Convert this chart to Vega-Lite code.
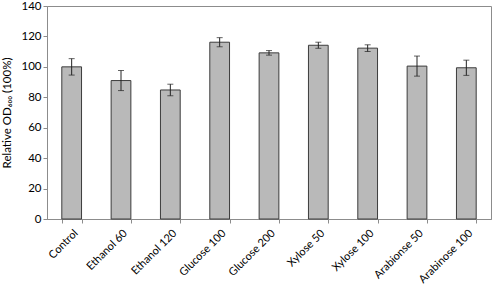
{
  "$schema": "https://vega.github.io/schema/vega-lite/v6.json",
  "autosize": "none",
  "width": 444,
  "height": 213,
  "padding": {"left": 47, "top": 6, "right": 7, "bottom": 70},
  "config": {
    "view": {"stroke": "#8c8c8c", "strokeWidth": 1},
    "font": "Lato",
    "axis": {"labelFont": "Lato", "titleFont": "Lato", "labelColor": "#000", "titleColor": "#000", "domainColor": "#8c8c8c", "tickColor": "#8c8c8c", "grid": false, "labelOverlap": false}
  },
  "data": {
    "values": [
      {"group": "Control", "value": 100, "err": 5.4},
      {"group": "Ethanol 60", "value": 91, "err": 6.6},
      {"group": "Ethanol 120", "value": 84.8, "err": 3.8},
      {"group": "Glucose 100", "value": 116.2, "err": 3},
      {"group": "Glucose 200", "value": 109.2, "err": 1.5},
      {"group": "Xylose 50", "value": 114.2, "err": 2},
      {"group": "Xylose 100", "value": 112.3, "err": 2.2},
      {"group": "Arabionse 50", "value": 100.5, "err": 6.6},
      {"group": "Arabinose 100", "value": 99.4, "err": 5}
    ]
  },
  "encoding": {
    "x": {
      "field": "group", "type": "nominal", "sort": null,
      "scale": {"paddingInner": 0.6, "paddingOuter": 0.3},
      "axis": {"title": null, "labelAngle": -45, "labelFontSize": 11, "tickBand": "extent", "tickSize": 4, "labelPadding": 4}
    },
    "y": {
      "field": "value", "type": "quantitative",
      "scale": {"domain": [0, 140]},
      "axis": {"values": [0, 20, 40, 60, 80, 100, 120, 140], "title": "Relative OD₆₀₀ (100%)", "titleFontSize": 11.5, "labelFontSize": 11.5, "tickSize": 4, "titlePadding": 8, "titleFontWeight": "normal"}
    }
  },
  "layer": [
    {
      "mark": {"type": "bar", "color": "#b9b9b9", "stroke": "#3c3c3c", "strokeWidth": 1}
    },
    {
      "mark": {"type": "errorbar", "color": "#222", "thickness": 1, "ticks": {"size": 6, "color": "#222", "thickness": 1}},
      "encoding": {
        "yError": {"field": "err"}
      }
    }
  ]
}
